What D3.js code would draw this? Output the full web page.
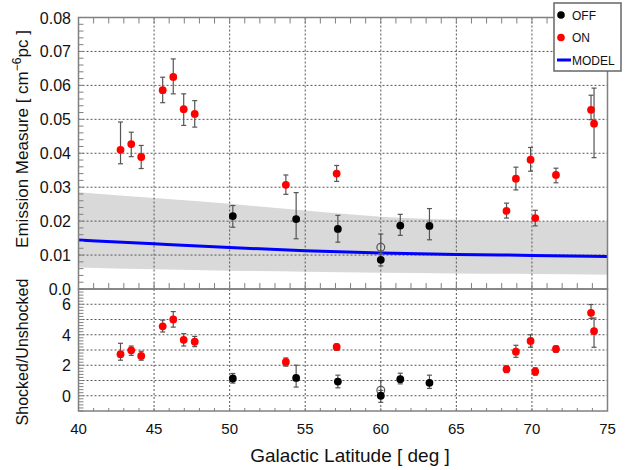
<!DOCTYPE html>
<html>
<head>
<meta charset="utf-8">
<script src="https://cdn.jsdelivr.net/npm/d3@7"></script>
<style>
  body { margin: 0; background: white; }
  text { font-family: "Liberation Sans", Arial, sans-serif; }
</style>
</head>
<body>
<div id="chart"></div>
<script>
// ON fields (red)
const onLat = [42.78, 43.49, 44.15, 45.57, 46.27, 46.96, 47.69, 53.72, 57.08, 68.32, 68.94, 69.91, 70.22, 71.59, 73.91, 74.11];
const onEm = [0.0410, 0.0427, 0.0389, 0.0586, 0.0625, 0.0530, 0.0516, 0.0307, 0.0340, 0.0230, 0.0325, 0.0381, 0.0209, 0.0336, 0.0528, 0.0487];
const onEmLo = [0.0369, 0.0390, 0.0355, 0.0549, 0.0575, 0.0482, 0.0477, 0.0279, 0.0317, 0.0209, 0.0292, 0.0347, 0.0186, 0.0313, 0.0499, 0.0387];
const onEmHi = [0.0492, 0.0462, 0.0423, 0.0624, 0.0678, 0.0575, 0.0555, 0.0336, 0.0364, 0.0253, 0.0359, 0.0417, 0.0232, 0.0356, 0.0571, 0.0592];
const onRatio = [2.72, 2.98, 2.61, 4.55, 5.00, 3.67, 3.54, 2.22, 3.20, 1.74, 2.89, 3.59, 1.59, 3.07, 5.44, 4.24];
const onRatioLo = [2.33, 2.65, 2.33, 4.18, 4.50, 3.26, 3.22, 1.94, 2.98, 1.52, 2.52, 3.18, 1.35, 2.85, 5.07, 3.18];
const onRatioHi = [3.44, 3.26, 2.92, 4.96, 5.52, 4.07, 3.89, 2.48, 3.39, 1.96, 3.31, 4.00, 1.83, 3.26, 5.98, 5.10];

// OFF fields (black)
const offLat = [50.21, 54.40, 57.16, 60.0, 61.29, 63.22];
const offEm = [0.0215, 0.0206, 0.0177, 0.0086, 0.0187, 0.0186];
const offEmLo = [0.0182, 0.0148, 0.0138, 0.0068, 0.0158, 0.0145];
const offEmHi = [0.0246, 0.0284, 0.0217, 0.0105, 0.0220, 0.0237];
const offRatio = [1.13, 1.17, 0.93, 0.0, 1.09, 0.85];
const offRatioLo = [0.83, 0.57, 0.52, -0.43, 0.78, 0.48];
const offRatioHi = [1.46, 2.00, 1.35, 0.35, 1.48, 1.35];

// open circle at b=60
const openLat = [60.0];
const openEm = [0.0123];
const openEmLo = [0.0092];
const openEmHi = [0.0162];
const openRatio = [0.36];
const openRatioLo = [0.0];
const openRatioHi = [1.0];

// model curve and band
const modelLat = [40, 45, 50, 55, 60, 65, 70, 75];
const modelEm = [0.01445, 0.0133, 0.0122, 0.0113, 0.0106, 0.0102, 0.0099, 0.0096];
const modelHi = [0.0285, 0.0268, 0.0251, 0.0231, 0.0213, 0.0204, 0.0200, 0.0199];
const modelLo = [0.0063, 0.0058, 0.0054, 0.0051, 0.0048, 0.0046, 0.0044, 0.0042];

const emTicks = [0, 0.01, 0.02, 0.03, 0.04, 0.05, 0.06, 0.07, 0.08];
const emTickLabels = ["0.0", "0.01", "0.02", "0.03", "0.04", "0.05", "0.06", "0.07", "0.08"];
const ratioTicks = [0, 2, 4, 6];
const latTicks = [40, 45, 50, 55, 60, 65, 70, 75];

const legendItems = ["OFF", "ON", "MODEL"];

let width = 633, height = 470;
let left = 78.5, right = 607.5;
let topY = 17.5, mid = 289, bottom = 411;
let frameColor = "#808080";
let gridColor = "#555";
let errColor = "#555";

let x = d3.scaleLinear().domain([40, 75]).range([left, right]);
let yEm = d3.scaleLinear().domain([0, 0.08]).range([mid, topY]);
let yRat = d3.scaleLinear().domain([-1, 7]).range([bottom, mid]);

let svg = d3.select("#chart")
  .append("svg")
  .attr("width", width)
  .attr("height", height);

// model band
let band = d3.area()
  .x((d, i) => x(modelLat[i]))
  .y0((d, i) => yEm(modelLo[i]))
  .y1((d, i) => yEm(modelHi[i]))
  .curve(d3.curveMonotoneX);
svg.append("path")
  .datum(modelLat)
  .attr("d", band)
  .style("fill", "#d9d9d9");

// grid lines
function grid(g, xs, ys, yScale, y0, y1){
  xs.forEach(v => {
    g.append("line")
      .attr("x1", x(v)).attr("x2", x(v))
      .attr("y1", y0).attr("y2", y1)
      .style("stroke", gridColor)
      .style("stroke-width", 1)
      .style("stroke-dasharray", "2,2");
  });
  ys.forEach(v => {
    g.append("line")
      .attr("x1", left).attr("x2", right)
      .attr("y1", yScale(v)).attr("y2", yScale(v))
      .style("stroke", gridColor)
      .style("stroke-width", 1)
      .style("stroke-dasharray", "2,2");
  });
}
let gridG = svg.append("g");
grid(gridG, latTicks.slice(1, -1), emTicks.slice(1, -1), yEm, topY, mid);
grid(gridG, latTicks.slice(1, -1), d3.range(0, 7), yRat, mid, bottom);

// model line
let modelLine = d3.line()
  .x((d, i) => x(modelLat[i]))
  .y((d, i) => yEm(modelEm[i]))
  .curve(d3.curveMonotoneX);
svg.append("path")
  .datum(modelLat)
  .attr("d", modelLine)
  .style("fill", "none")
  .style("stroke", "#0000ff")
  .style("stroke-width", 3);

// ticks on frame
let tickG = svg.append("g").style("stroke", frameColor).style("stroke-width", 1);
d3.range(41, 75).forEach(v => {
  tickG.append("line").attr("x1", x(v)).attr("x2", x(v)).attr("y1", topY).attr("y2", topY + 6);
  tickG.append("line").attr("x1", x(v)).attr("x2", x(v)).attr("y1", mid).attr("y2", mid - 6);
  tickG.append("line").attr("x1", x(v)).attr("x2", x(v)).attr("y1", bottom).attr("y2", bottom - 3);
});
d3.range(0, 0.0801, 0.002).forEach(v => {
  tickG.append("line").attr("x1", left).attr("x2", left + 5).attr("y1", yEm(v)).attr("y2", yEm(v));
});
d3.range(-1, 7.01, 0.2).forEach(v => {
  tickG.append("line").attr("x1", left).attr("x2", left + 5).attr("y1", yRat(v)).attr("y2", yRat(v));
});

// error bars + points
function series(yScale, lat, val, lo, hi, fill, stroke){
  let g = svg.append("g");
  lat.forEach((b, i) => {
    let cx = x(b);
    g.append("line")
      .attr("x1", cx).attr("x2", cx)
      .attr("y1", yScale(lo[i])).attr("y2", yScale(hi[i]))
      .style("stroke", errColor).style("stroke-width", 1.2);
    [lo[i], hi[i]].forEach(e => {
      g.append("line")
        .attr("x1", cx - 2.5).attr("x2", cx + 2.5)
        .attr("y1", yScale(e)).attr("y2", yScale(e))
        .style("stroke", errColor).style("stroke-width", 1.2);
    });
  });
  lat.forEach((b, i) => {
    g.append("circle")
      .attr("cx", x(b))
      .attr("cy", yScale(val[i]))
      .attr("r", 3.9)
      .style("fill", fill)
      .style("stroke", stroke)
      .style("stroke-width", stroke === "none" ? 0 : 1.2);
  });
}
series(yEm, openLat, openEm, openEmLo, openEmHi, "none", "#555");
series(yEm, offLat, offEm, offEmLo, offEmHi, "#000", "none");
series(yEm, onLat, onEm, onEmLo, onEmHi, "#ff0000", "none");
series(yRat, openLat, openRatio, openRatioLo, openRatioHi, "none", "#555");
series(yRat, offLat, offRatio, offRatioLo, offRatioHi, "#000", "none");
series(yRat, onLat, onRatio, onRatioLo, onRatioHi, "#ff0000", "none");

// frames
[[topY, mid], [mid, bottom]].forEach(p => {
  svg.append("rect")
    .attr("x", left).attr("y", p[0])
    .attr("width", right - left).attr("height", p[1] - p[0])
    .style("fill", "none")
    .style("stroke", frameColor)
    .style("stroke-width", 1.5);
});

// tick labels
emTicks.forEach((v, i) => {
  svg.append("text")
    .text(emTickLabels[i])
    .attr("x", 71).attr("y", yEm(v) + 6)
    .attr("text-anchor", "end")
    .style("font-size", "16px")
    .style("fill", "#111");
});
ratioTicks.forEach(v => {
  svg.append("text")
    .text(v)
    .attr("x", 71).attr("y", yRat(v) + 6)
    .attr("text-anchor", "end")
    .style("font-size", "16px")
    .style("fill", "#111");
});
latTicks.forEach(v => {
  svg.append("text")
    .text(v)
    .attr("x", x(v)).attr("y", 434)
    .attr("text-anchor", "middle")
    .style("font-size", "15px")
    .style("fill", "#111");
});

// axis titles
let emTitle = svg.append("text")
  .attr("transform", "translate(28,139) rotate(-90)")
  .attr("text-anchor", "middle")
  .style("font-size", "17px")
  .style("fill", "#111");
emTitle.append("tspan").text("Emission Measure [ cm");
emTitle.append("tspan").text("\u22126").attr("dy", -7).style("font-size", "12px");
emTitle.append("tspan").text("pc ]").attr("dy", 7);

svg.append("text")
  .text("Shocked/Unshocked")
  .attr("transform", "translate(28,352) rotate(-90)")
  .attr("text-anchor", "middle")
  .style("font-size", "16px")
  .style("fill", "#111");

svg.append("text")
  .text("Galactic Latitude [ deg ]")
  .attr("x", 350).attr("y", 462)
  .attr("text-anchor", "middle")
  .style("font-size", "19px")
  .style("fill", "#111");

// legend
let legend = svg.append("g").attr("id", "legend");
legend.append("rect")
  .attr("x", 554).attr("y", 3)
  .attr("width", 67).attr("height", 68)
  .style("fill", "white")
  .style("stroke", "#666")
  .style("stroke-width", 1.5);
let legendColors = ["#000", "#ff0000", "#0000ff"];
legendItems.forEach((item, index) => {
  let ly = 15 + index * 22.5;
  if (item === "MODEL") {
    legend.append("line")
      .attr("x1", 557).attr("x2", 571)
      .attr("y1", ly).attr("y2", ly)
      .style("stroke", legendColors[index])
      .style("stroke-width", 3);
  } else {
    legend.append("circle")
      .attr("cx", 561).attr("cy", ly).attr("r", 3.8)
      .style("fill", legendColors[index]);
  }
  legend.append("text")
    .text(item)
    .attr("x", 572).attr("y", ly + 4.5)
    .style("font-size", "12px")
    .style("fill", "#111");
});
</script>
</body>
</html>
